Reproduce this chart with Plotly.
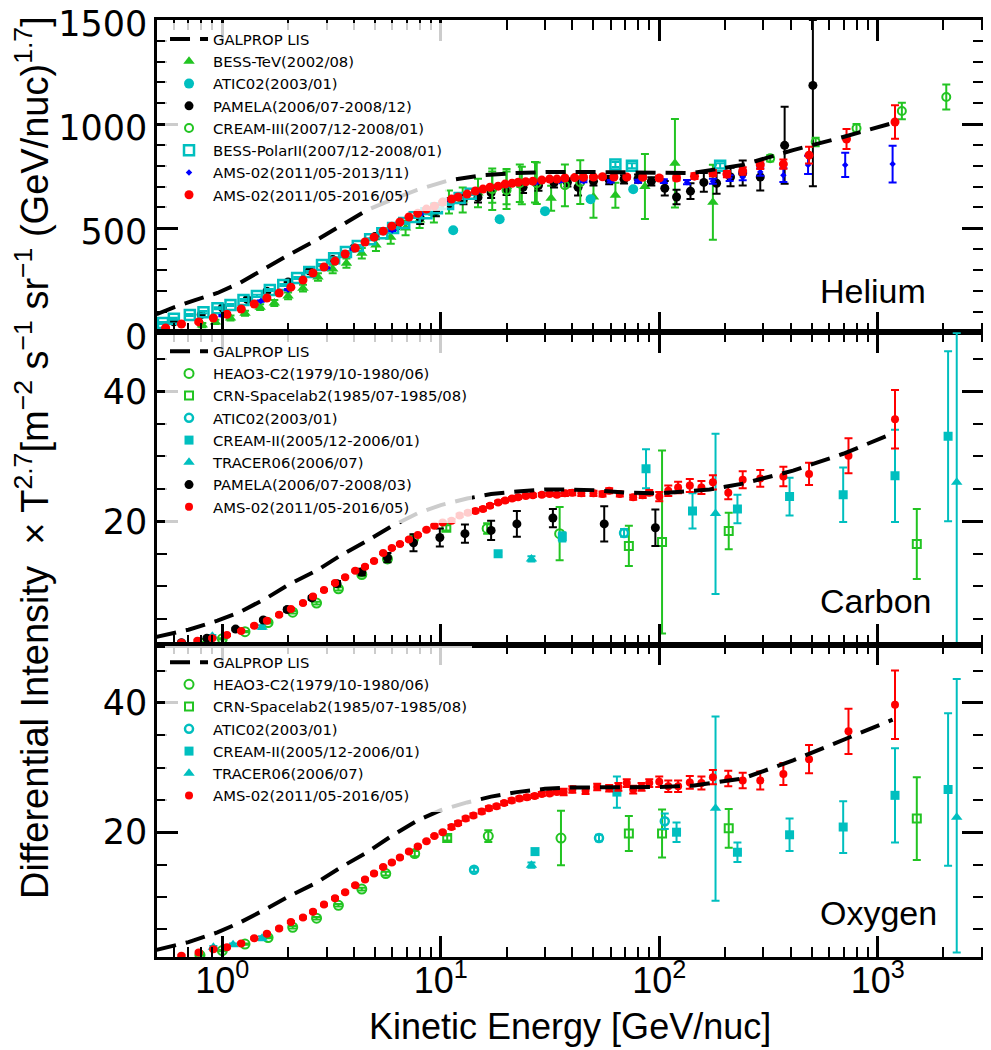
import plotly.graph_objects as go
from plotly.subplots import make_subplots

GREEN = "#22c422"
CYAN = "#00bfbf"

# ---------------- Helium ----------------
he_lis_e = [0.5, 0.6, 0.75, 0.95, 1.2, 1.6, 2.0, 2.7, 3.5, 4.6, 6.0, 7.8, 11, 15.6, 22, 31.5, 50, 80, 142, 241, 410, 695, 1170]
he_lis = [87, 120, 155, 189, 237, 314, 370, 443, 514, 587, 638, 684, 731, 755, 765, 770, 770, 768, 765, 804, 875, 938, 1005]

he_besstev_e = [0.81, 0.93, 1.09, 1.27, 1.49, 1.73, 2.0, 2.34, 2.74, 3.2, 3.7, 4.35, 5.05, 5.9, 6.9, 8.0, 9.3, 10.9, 12.6, 14.8,
                17.2, 20, 23.5, 27, 32, 50, 63, 86, 118, 176]
he_besstev = [35, 50, 69, 92, 121, 141, 175, 212, 266, 304, 332, 380, 419, 457, 501, 539, 572, 626, 635, 669,
              697, 700, 705, 721, 644, 650, 658, 700, 812, 625]
he_besstev_err = [10, 10, 12, 12, 14, 14, 16, 16, 18, 20, 22, 25, 28, 32, 35, 38, 45, 55, 60, 68,
                  75, 85, 90, 97, 60, 100, 60, 156, 213, 180]

he_atic_e = [11.4, 18.6, 30, 48.5, 76]
he_atic = [490, 543, 582, 639, 687]
he_atic_err = [6, 6, 6, 8, 8]

he_pamela_e = [0.6, 0.8, 1.0, 1.3, 1.6, 2.0, 2.5, 3.2, 4.0, 5.0, 6.3, 8.05, 9.5, 11, 12.7, 14.8, 17, 20, 23.8, 28,
               33, 38, 42.5, 50, 59, 69, 80, 92, 106, 120, 139, 160, 183, 212, 241, 290, 375, 505]
he_pamela = [50, 85, 118, 158, 197, 242, 296, 350, 405, 460, 510, 550, 585, 620, 640, 648, 670, 685, 697, 705,
             718, 720, 697, 725, 731, 735, 738, 725, 692, 650, 678, 720, 716, 746, 765, 746, 898, 1186]
he_pamela_err_hi = [4] * 11 + [30, 28, 25, 25, 25, 25, 25, 28, 25, 22, 20, 40, 20, 20, 20, 20, 20, 35, 35, 38,
                               45, 50, 45, 60, 65, 185, 314]
he_pamela_err_lo = he_pamela_err_hi[:-1] + [484]

he_cream3_e = [17.2, 20, 23, 27.5, 37, 43.5, 322, 520, 800, 1290, 2060]
he_cream3 = [687, 682, 716, 716, 706, 721, 836, 914, 980, 1063, 1130]
he_cream3_err = [100, 90, 90, 100, 100, 105, 15, 20, 20, 40, 60]

he_bpolar_e = [0.535, 0.6, 0.71, 0.82, 0.95, 1.09, 1.25, 1.44, 1.65, 1.9, 2.2, 2.5, 2.86, 3.25, 3.68, 4.17, 4.75,
               5.4, 6.05, 6.8, 7.6, 8.6, 9.6, 10.8, 12.2, 13.7, 63, 75, 190]
he_bpolar = [45, 65, 83, 97, 116, 131, 155, 175, 203, 227, 261, 290, 323, 356, 386, 415, 447,
             476, 501, 525, 554, 572, 596, 616, 645, 665, 806, 800, 800]
he_bpolar_err = [5] * 26 + [12, 12, 12]

he_ams13_e = [1.0, 1.5, 2.0, 3.0, 4.0, 6.0, 8.0, 11, 15, 20, 27, 35, 45, 60, 80, 105, 134, 176, 210, 241, 290, 370, 480, 710, 1170]
he_ams13 = [80, 150, 205, 310, 400, 490, 568, 635, 680, 705, 718, 725, 726, 726, 726, 726, 721, 726, 741, 745, 770, 755, 804, 804, 808]
he_ams13_err = [3] * 12 + [5, 6, 7, 9, 10, 12, 14, 15, 18, 33, 44, 58, 88]

he_ams16_e = [0.55, 0.65, 0.78, 0.91, 1.05, 1.22, 1.4, 1.6, 1.82, 2.06, 2.34, 2.6, 2.92, 3.28, 3.65, 4.06, 4.5, 4.95,
              5.45, 5.97, 6.5, 7.15, 7.85, 8.6, 9.35, 10.2, 11.2, 12, 13.2, 14.4, 15.6, 16.8, 18.3, 19.7, 21.2, 22.6,
              24.5, 26.4, 29, 31.5, 34, 37, 41, 45, 50, 55, 62, 71, 84, 100, 120, 145, 176, 204, 241, 290, 370, 485, 720, 1200]
he_ams16 = [21, 40, 50, 69, 87, 112, 136, 165, 189, 217, 251, 285, 314, 342, 376, 405, 434, 457,
            486, 510, 530, 554, 572, 592, 606, 626, 640, 650, 664, 679, 688, 697, 702, 712, 716, 721,
            723, 726, 731, 736, 736, 741, 743, 745, 746, 747, 746, 746, 745, 741, 741, 750, 765, 760, 775, 804, 808, 851, 928, 1010]
he_ams16_err = [3] * 30 + [4] * 10 + [5] * 5 + [6, 7, 8, 9, 10] + [12, 14, 15, 15, 18] + [20, 22, 40, 48, 80]

# ---------------- Carbon ----------------
c_lis_e = [0.5, 0.7, 0.95, 1.2, 1.6, 2.0, 2.7, 3.5, 4.6, 6.0, 7.8, 10, 13.2, 17, 22.3, 30, 37.7, 50, 71, 100, 170, 241, 410, 695, 1170]
c_lis = [2.2, 3.3, 4.7, 6.0, 8.2, 10.2, 12.4, 14.8, 17.0, 19.3, 21.2, 22.5, 23.5, 24.2, 24.6, 24.9, 24.9, 24.8, 24.4, 24.3,
         24.9, 25.8, 27.8, 30.4, 33.5]

c_heao_e = [0.79, 1.0, 1.27, 1.62, 2.1, 2.7, 3.4, 4.35, 5.7, 7.5, 16.3, 35]
c_heao = [1.3, 1.9, 3.0, 4.4, 6.0, 7.4, 9.6, 11.8, 14.2, 17.3, 18.9, 18.1]
c_heao_err = [0.1, 0.1, 0.1, 0.15, 0.2, 0.2, 0.25, 0.3, 0.35, 0.4, 0.8, 4.1]

c_crn_e = [10.6, 72.6, 103, 208, 1510]
c_crn = [19.0, 16.2, 16.8, 18.5, 16.5]
c_crn_err = [0.4, 3.1, 14.1, 2.8, 5.4]

c_atic_e = [69]
c_atic = [18.2]
c_atic_err = [0.6]

c_cream2_e = [18.3, 36, 87, 142, 228, 395, 695, 1200, 2100]
c_cream2 = [15.0, 17.6, 28.1, 21.6, 21.9, 23.8, 24.1, 27.0, 33.1]
c_cream2_err = [0.3, 0.7, 3.0, 2.7, 2.2, 2.9, 4.2, 7.1, 13.1]

c_tracer_e = [0.9, 1.52, 26, 181, 2300]
c_tracer = [2.3, 3.7, 14.2, 21.2, 26.0]
c_tracer_err_hi = [0.2, 0.3, 0.4, 12.3, 23.0]
c_tracer_err_lo = [0.2, 0.3, 0.4, 12.4, 25.0]

c_pamela_e = [0.65, 0.85, 1.15, 1.54, 1.98, 2.57, 3.35, 4.35, 5.7, 7.5, 9.9, 12.9, 17, 22.3, 32.6, 56, 96]
c_pamela = [1.3, 2.0, 3.4, 4.8, 6.4, 8.2, 10.4, 12.2, 14.4, 16.7, 17.5, 18.1, 18.6, 19.6, 20.5, 19.6, 19.0]
c_pamela_err = [0.2, 0.2, 0.2, 0.2, 0.3, 0.3, 0.4, 0.5, 0.7, 1.3, 1.4, 1.4, 1.5, 2.0, 1.4, 2.7, 2.8]

c_ams_e = [0.65, 0.77, 0.9, 1.05, 1.22, 1.4, 1.6, 1.82, 2.06, 2.34, 2.6, 2.92, 3.28, 3.65, 4.06, 4.5, 4.95, 5.45, 5.97, 6.5,
           7.15, 7.85, 8.6, 9.35, 10.2, 11.2, 12.2, 13.3, 14.4, 15.6, 16.8, 18.3, 19.7, 21.2, 22.6, 24.5, 26.4, 29, 31.5, 34,
           37, 40, 44, 50, 55, 59, 66, 76, 84, 90, 100, 110, 122, 138, 156, 176, 207, 241, 290, 370, 485, 735, 1200]
c_ams = [1.3, 1.6, 2.0, 2.5, 3.1, 3.9, 4.7, 5.6, 6.5, 7.4, 8.4, 9.4, 10.5, 11.4, 12.4, 13.0, 13.9, 15.1, 15.9, 16.5,
         17.2, 17.9, 18.7, 19.3, 19.8, 20.1, 20.9, 21.3, 21.6, 21.9, 22.4, 22.9, 23.2, 23.5, 23.7, 23.9, 24.0, 24.1, 24.2, 24.1,
         24.3, 24.4, 24.3, 24.3, 24.2, 24.7, 24.2, 23.7, 24.0, 24.4, 23.8, 24.7, 25.2, 25.5, 25.2, 26.0, 24.4, 26.4, 26.6, 26.9,
         27.3, 30.1, 35.7]
c_ams_err = [0.15] * 25 + [0.25] * 15 + [0.4] * 10 + [0.7, 0.8, 0.9, 1.0, 1.0] + [1.1, 1.0, 1.3, 1.3, 1.5] + [1.7, 2.7, 4.5]

# ---------------- Oxygen ----------------
o_lis_e = [0.5, 0.7, 0.95, 1.2, 1.6, 2.0, 2.7, 3.5, 4.6, 6.0, 7.8, 10, 13.2, 17, 22.3, 30, 37.7, 50, 71, 100, 142, 241, 410, 695, 1170]
o_lis = [1.8, 3.0, 4.5, 6.0, 8.2, 10.0, 12.2, 14.6, 16.9, 19.5, 21.8, 23.4, 24.6, 25.5, 26.2, 26.7, 26.9, 26.9, 26.9, 27.0,
         27.2, 28.3, 31.1, 34.2, 37.4]

o_heao_e = [0.79, 1.0, 1.27, 1.62, 2.1, 2.7, 3.4, 4.35, 5.6, 7.6, 16.5, 35.5]
o_heao = [1.0, 1.7, 2.7, 3.7, 5.3, 6.7, 8.7, 11.2, 13.6, 16.7, 19.4, 19.1]
o_heao_err = [0.1, 0.1, 0.1, 0.1, 0.2, 0.2, 0.2, 0.2, 0.3, 0.4, 0.9, 4.2]

o_crn_e = [10.7, 72.6, 103, 208, 1510]
o_crn = [19.1, 19.8, 19.8, 20.6, 22.1]
o_crn_err = [0.4, 2.7, 3.7, 3.0, 6.4]

o_atic_e = [14.2, 53, 106]
o_atic = [14.2, 19.1, 21.7]
o_atic_err = [0.3, 0.5, 1.2]

o_cream2_e = [27, 64, 120, 228, 395, 695, 1200, 2100]
o_cream2 = [17.0, 26.2, 20.0, 16.9, 19.6, 20.8, 25.7, 26.6]
o_cream2_err = [0.3, 2.4, 1.5, 1.5, 2.5, 4.0, 7.3, 11.8]

o_tracer_e = [0.91, 1.12, 1.52, 26, 181, 2300]
o_tracer = [2.2, 2.6, 3.6, 14.9, 23.7, 22.3]
o_tracer_err_hi = [0.2, 0.2, 0.3, 0.4, 14.2, 21.4]
o_tracer_err_lo = [0.2, 0.2, 0.3, 0.4, 14.3, 20.9]

o_ams_e = [0.65, 0.78, 0.91, 1.05, 1.22, 1.4, 1.6, 1.82, 2.06, 2.34, 2.6, 2.92, 3.28, 3.65, 4.06, 4.5, 4.95, 5.45, 5.97, 6.5,
           7.15, 7.85, 8.6, 9.35, 10.2, 11.2, 12, 13, 14.1, 15.4, 16.6, 18, 19.5, 21.1, 22.9, 24.8, 26.9, 29, 31.5, 34,
           36.5, 40, 46, 52, 59, 65, 71, 76, 83, 90, 100, 110, 122, 138, 156, 176, 207, 241, 290, 370, 485, 735, 1200]
o_ams = [0.9, 1.4, 1.9, 2.2, 2.8, 3.6, 4.3, 5.1, 6.1, 6.8, 7.7, 8.8, 9.8, 10.7, 11.8, 12.7, 13.6, 14.6, 15.3, 16.1,
         17.0, 17.8, 18.6, 19.4, 20.0, 20.8, 21.4, 22.1, 22.6, 23.2, 23.7, 24.0, 24.5, 24.9, 25.2, 25.4, 25.6, 25.9, 26.0, 26.2,
         26.2, 26.6, 26.4, 27.0, 26.8, 27.0, 27.6, 26.6, 27.0, 27.6, 27.8, 27.1, 27.1, 27.7, 27.6, 28.5, 28.3, 28.0, 28.0, 29.0,
         31.3, 35.6, 39.7]
o_ams_err = [0.15] * 25 + [0.3] * 15 + [0.5] * 5 + [0.6] * 5 + [0.8, 0.9, 0.9, 1.0, 1.0] + [1.1, 1.2, 1.2, 1.4, 1.7] + [2.2, 3.5, 5.3]

# tick positions
x_major = [1, 10, 100, 1000]
x_major_text = ["10<sup>0</sup>", "10<sup>1</sup>", "10<sup>2</sup>", "10<sup>3</sup>"]
x_minor = [k * 10 ** d for d in range(-1, 4) for k in range(2, 10)]


fig = make_subplots(rows=3, cols=1, shared_xaxes=True, vertical_spacing=0)


def add_points(row, legend, rank, name, e, v, err, color, symbol, size, err_lo=None, line_w=0):
    ey = dict(type="data", array=err, color=color, thickness=2, width=4)
    if err_lo is not None:
        ey["symmetric"] = False
        ey["arrayminus"] = err_lo
    fig.add_trace(go.Scatter(
        x=e, y=v, mode="markers", name=name, legend=legend, legendrank=rank,
        marker=dict(symbol=symbol, size=size, color=color, line=dict(width=line_w, color=color)),
        error_y=ey), row=row, col=1)


def add_lis(row, legend, e, v):
    fig.add_trace(go.Scatter(
        x=e, y=v, mode="lines", name="GALPROP LIS", legend=legend, legendrank=1,
        line=dict(color="black", width=4, dash="20px,10px")), row=row, col=1)


# Helium panel
add_points(1, "legend", 2, "BESS-TeV(2002/08)", he_besstev_e, he_besstev, he_besstev_err, GREEN, "triangle-up", 10)
add_points(1, "legend", 3, "ATIC02(2003/01)", he_atic_e, he_atic, he_atic_err, CYAN, "circle", 10)
add_points(1, "legend", 4, "PAMELA(2006/07-2008/12)", he_pamela_e, he_pamela, he_pamela_err_hi, "black", "circle", 9,
           err_lo=he_pamela_err_lo)
add_points(1, "legend", 5, "CREAM-III(2007/12-2008/01)", he_cream3_e, he_cream3, he_cream3_err, GREEN, "circle-open", 8, line_w=2)
add_points(1, "legend", 6, "BESS-PolarII(2007/12-2008/01)", he_bpolar_e, he_bpolar, he_bpolar_err, CYAN, "square-open", 10, line_w=2.5)
add_points(1, "legend", 7, "AMS-02(2011/05-2013/11)", he_ams13_e, he_ams13, he_ams13_err, "blue", "diamond", 5)
add_points(1, "legend", 8, "AMS-02(2011/05-2016/05)", he_ams16_e, he_ams16, he_ams16_err, "red", "circle", 9)
add_lis(1, "legend", he_lis_e, he_lis)

# Carbon panel
add_points(2, "legend2", 2, "HEAO3-C2(1979/10-1980/06)", c_heao_e, c_heao, c_heao_err, GREEN, "circle-open", 9, line_w=2)
add_points(2, "legend2", 3, "CRN-Spacelab2(1985/07-1985/08)", c_crn_e, c_crn, c_crn_err, GREEN, "square-open", 8, line_w=2)
add_points(2, "legend2", 4, "ATIC02(2003/01)", c_atic_e, c_atic, c_atic_err, CYAN, "circle-open", 8, line_w=2.5)
add_points(2, "legend2", 5, "CREAM-II(2005/12-2006/01)", c_cream2_e, c_cream2, c_cream2_err, CYAN, "square", 9)
add_points(2, "legend2", 6, "TRACER06(2006/07)", c_tracer_e, c_tracer, c_tracer_err_hi, CYAN, "triangle-up", 10,
           err_lo=c_tracer_err_lo)
add_points(2, "legend2", 7, "PAMELA(2006/07-2008/03)", c_pamela_e, c_pamela, c_pamela_err, "black", "circle", 9)
add_points(2, "legend2", 8, "AMS-02(2011/05-2016/05)", c_ams_e, c_ams, c_ams_err, "red", "circle", 8)
add_lis(2, "legend2", c_lis_e, c_lis)

# Oxygen panel
add_points(3, "legend3", 2, "HEAO3-C2(1979/10-1980/06)", o_heao_e, o_heao, o_heao_err, GREEN, "circle-open", 9, line_w=2)
add_points(3, "legend3", 3, "CRN-Spacelab2(1985/07-1985/08)", o_crn_e, o_crn, o_crn_err, GREEN, "square-open", 8, line_w=2)
add_points(3, "legend3", 4, "ATIC02(2003/01)", o_atic_e, o_atic, o_atic_err, CYAN, "circle-open", 8, line_w=2.5)
add_points(3, "legend3", 5, "CREAM-II(2005/12-2006/01)", o_cream2_e, o_cream2, o_cream2_err, CYAN, "square", 9)
add_points(3, "legend3", 6, "TRACER06(2006/07)", o_tracer_e, o_tracer, o_tracer_err_hi, CYAN, "triangle-up", 10,
           err_lo=o_tracer_err_lo)
add_points(3, "legend3", 7, "AMS-02(2011/05-2016/05)", o_ams_e, o_ams, o_ams_err, "red", "circle", 8)
add_lis(3, "legend3", o_lis_e, o_lis)

axis_common = dict(showline=True, linewidth=2.5, linecolor="black", mirror="allticks", ticks="inside",
                   ticklen=21, tickwidth=2.5, tickcolor="black", showgrid=False, zeroline=False, automargin=False,
                   ticklabeloverflow="allow")

for r in (1, 2, 3):
    fig.update_xaxes(type="log", range=[-0.299, 3.482], tickvals=x_major, ticktext=x_major_text,
                     showticklabels=(r == 3), ticklabelstandoff=-10,
                     tickfont=dict(family="Liberation Sans, Arial, sans-serif", size=36, color="black"),
                     minor=dict(ticks="inside", ticklen=10, tickwidth=2, tickcolor="black", tickvals=x_minor, showgrid=False),
                     row=r, col=1, **axis_common)

yfont = dict(family="DejaVu Sans, sans-serif", size=35, color="black")
fig.update_yaxes(range=[0, 1500], tickvals=[0, 500, 1000, 1500], tickfont=yfont, ticklabelshift=4,
                 minor=dict(ticks="inside", ticklen=10, tickwidth=2, tickcolor="black", dtick=100, tick0=0, showgrid=False),
                 row=1, col=1, **axis_common)
fig.update_yaxes(range=[1.0, 49.1], tickvals=[20, 40], tickfont=yfont,
                 minor=dict(ticks="inside", ticklen=10, tickwidth=2, tickcolor="black", dtick=5, tick0=0, showgrid=False),
                 row=2, col=1, **axis_common)
fig.update_yaxes(range=[0.7, 49.0], tickvals=[20, 40], tickfont=yfont,
                 minor=dict(ticks="inside", ticklen=10, tickwidth=2, tickcolor="black", dtick=5, tick0=0, showgrid=False),
                 row=3, col=1, **axis_common)

leg_common = dict(x=0.0097, xanchor="left", yanchor="top", bgcolor="rgba(255,255,255,0.8)", borderwidth=0,
                  itemwidth=38,
                  font=dict(family="DejaVu Sans, sans-serif", size=14.8, color="black"))

# the page body has an 8px margin, so the figure is 8px smaller and the left/top margins 8px less
fig.update_layout(
    width=983, height=1042,
    margin=dict(l=149, r=8, t=12, b=93, autoexpand=False),
    plot_bgcolor="white", paper_bgcolor="white",
    showlegend=True,
    legend=dict(y=0.9968, **leg_common),
    legend2=dict(y=0.6638, **leg_common),
    legend3=dict(y=0.3319, **leg_common),
)

label_font = dict(family="Liberation Sans, Arial, sans-serif", size=34, color="black")
for txt, yy in (("Helium", 0.711), ("Carbon", 0.380), ("Oxygen", 0.047)):
    fig.add_annotation(text=txt, xref="paper", yref="paper", x=0.800, y=yy, xanchor="left", yanchor="middle",
                       showarrow=False, font=label_font)

fig.add_annotation(
    text="Differential Intensity  \u00d7 T<sup>2.7</sup>[m<sup>\u22122</sup> s<sup>\u22121</sup> sr<sup>\u22121</sup> (GeV/nuc)<sup>1.7</sup>]",
    xref="paper", yref="paper", x=-0.1513, y=0.5326, textangle=-90, showarrow=False,
    xanchor="center", yanchor="middle",
    font=dict(family="Liberation Sans, Arial, sans-serif", size=38, color="black"))

fig.add_annotation(text="Kinetic Energy [GeV/nuc]", xref="paper", yref="paper", x=0.5, y=-0.0747,
                   xanchor="center", yanchor="middle", showarrow=False,
                   font=dict(family="Liberation Sans, Arial, sans-serif", size=36, color="black"))

fig.write_html("out.html")
